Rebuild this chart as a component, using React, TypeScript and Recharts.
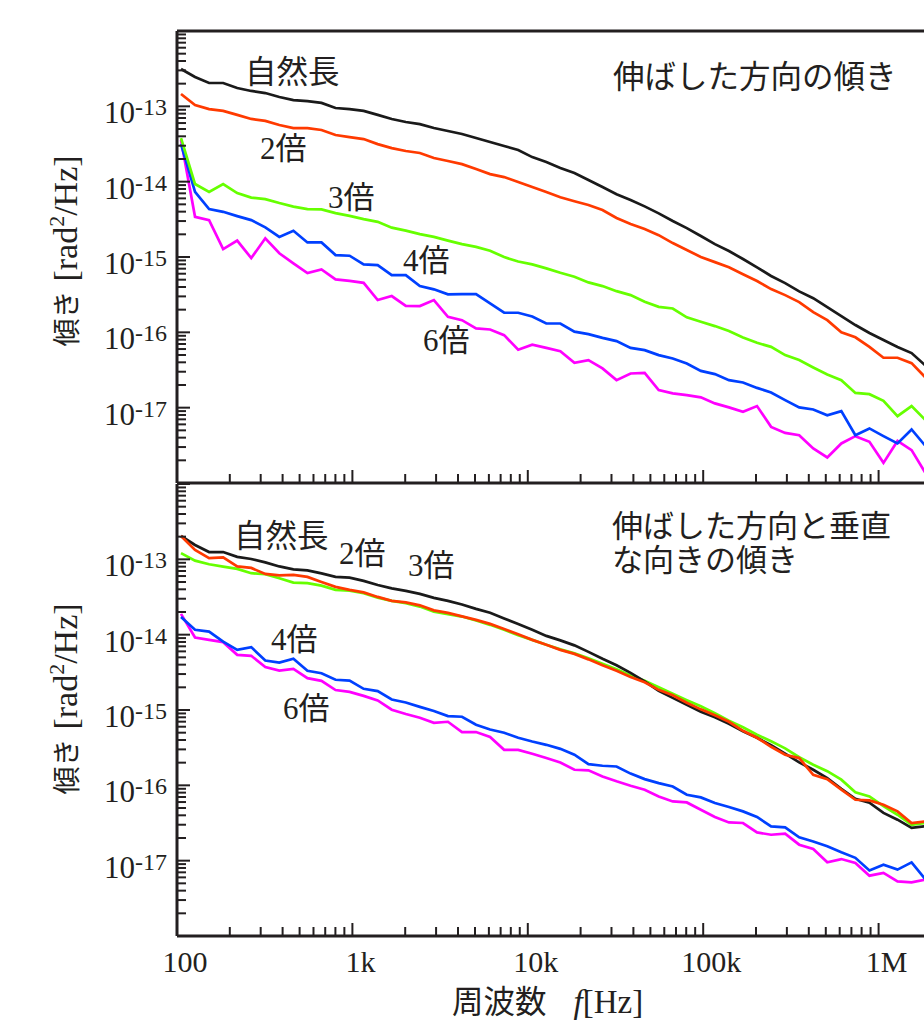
import { LineChart, Line, XAxis, YAxis, ReferenceLine } from 'recharts';

const INK = '#231f20';
const SERIF = '"Liberation Serif", "Times New Roman", serif';
const GOTHIC = '"Noto Sans CJK JP", "Noto Sans", sans-serif';

// frequency of each sample [Hz]
const FREQ = [
  105.4, 126.7, 152.4, 183.3, 220.4, 265.0, 318.7, 383.2, 460.9, 554.2,
  666.4, 801.4, 963.8, 1159, 1394, 1676, 2016, 2424, 2915, 3505,
  4215, 5069, 6095, 7330, 8814, 10600, 12750, 15330, 18440, 22170,
  26660, 32060, 38550, 46370, 55760, 67050, 80630, 96940, 116600, 140200,
  168600, 202700, 243800, 293200, 352600, 424000, 509800, 613100, 737300, 886600,
  1066000, 1282000, 1542000, 1854000,
];

// 伸ばした方向の傾き
const TOP_NATURAL = [
  3.13e-13, 2.45e-13, 2.04e-13, 2.04e-13, 1.75e-13, 1.6e-13, 1.5e-13, 1.33e-13, 1.21e-13, 1.17e-13,
  1.11e-13, 9.5e-14, 9.2e-14, 8.7e-14, 7.7e-14, 6.8e-14, 6.2e-14, 5.8e-14, 5.15e-14, 4.7e-14,
  4.3e-14, 3.8e-14, 3.36e-14, 2.97e-14, 2.63e-14, 2.12e-14, 1.82e-14, 1.52e-14, 1.3e-14, 1.05e-14,
  8.5e-15, 6.8e-15, 5.7e-15, 4.7e-15, 3.8e-15, 3.0e-15, 2.42e-15, 1.9e-15, 1.48e-15, 1.2e-15,
  9.4e-16, 7.3e-16, 5.6e-16, 4.5e-16, 3.5e-16, 2.84e-16, 2.16e-16, 1.64e-16, 1.25e-16, 9.8e-17,
  7.9e-17, 6.4e-17, 5.3e-17, 3.6e-17,
];
const TOP_X2 = [
  1.46e-13, 1.04e-13, 9.2e-14, 8.7e-14, 7.7e-14, 6.8e-14, 6.4e-14, 5.65e-14, 5.15e-14, 5.15e-14,
  4.85e-14, 4.16e-14, 3.9e-14, 3.68e-14, 3.15e-14, 2.79e-14, 2.55e-14, 2.4e-14, 2.06e-14, 1.88e-14,
  1.71e-14, 1.47e-14, 1.26e-14, 1.15e-14, 9.9e-15, 8.5e-15, 7.3e-15, 6.2e-15, 5.5e-15, 4.9e-15,
  4.2e-15, 3.3e-15, 2.74e-15, 2.35e-15, 1.95e-15, 1.53e-15, 1.24e-15, 1.0e-15, 8.55e-16, 7.3e-16,
  5.9e-16, 4.8e-16, 3.75e-16, 3.12e-16, 2.52e-16, 1.85e-16, 1.45e-16, 1.0e-16, 8.6e-17, 6.4e-17,
  4.6e-17, 4.6e-17, 3.9e-17, 2.5e-17,
];
const TOP_X3 = [
  3.79e-14, 9.3e-15, 7.3e-15, 9.3e-15, 7.06e-15, 6.15e-15, 5.87e-15, 5.2e-15, 4.67e-15, 4.32e-15,
  4.29e-15, 3.83e-15, 3.52e-15, 3.18e-15, 2.93e-15, 2.45e-15, 2.24e-15, 2.01e-15, 1.85e-15, 1.65e-15,
  1.48e-15, 1.36e-15, 1.21e-15, 9.97e-16, 8.7e-16, 7.98e-16, 7.06e-16, 6.17e-16, 5.46e-16, 4.6e-16,
  4.11e-16, 3.52e-16, 3.12e-16, 2.54e-16, 2.18e-16, 2.07e-16, 1.58e-16, 1.38e-16, 1.21e-16, 1.04e-16,
  8.55e-17, 7.26e-17, 6.42e-17, 4.98e-17, 4.28e-17, 3.42e-17, 2.76e-17, 2.32e-17, 1.57e-17, 1.51e-17,
  1.23e-17, 7.7e-18, 1.05e-17, 6.8e-18,
];
const TOP_X4 = [
  3.16e-14, 7.34e-15, 4.33e-15, 3.98e-15, 3.49e-15, 3.09e-15, 2.47e-15, 1.85e-15, 2.23e-15, 1.56e-15,
  1.56e-15, 1.06e-15, 1.04e-15, 7.98e-16, 7.8e-16, 5.75e-16, 5.75e-16, 4.11e-16, 3.72e-16, 3.19e-16,
  3.21e-16, 3.21e-16, 2.42e-16, 1.82e-16, 1.82e-16, 1.62e-16, 1.31e-16, 1.31e-16, 1.02e-16, 9.46e-17,
  8.45e-17, 7.64e-17, 6.22e-17, 5.8e-17, 4.98e-17, 4.5e-17, 3.86e-17, 3.08e-17, 2.79e-17, 2.32e-17,
  2.16e-17, 1.83e-17, 1.59e-17, 1.26e-17, 1.01e-17, 9.46e-18, 7.94e-18, 9.0e-18, 4.3e-18, 5.3e-18,
  4.19e-18, 3.35e-18, 5.13e-18, 3.08e-18,
];
const TOP_X6 = [
  3.57e-14, 3.42e-15, 3.09e-15, 1.27e-15, 1.65e-15, 9.67e-16, 1.77e-15, 1.12e-15, 8.22e-16, 6.11e-16,
  6.84e-16, 5.05e-16, 4.83e-16, 4.54e-16, 2.68e-16, 3.03e-16, 2.25e-16, 2.23e-16, 2.68e-16, 1.61e-16,
  1.45e-16, 1.13e-16, 1.09e-16, 9.18e-17, 5.89e-17, 6.87e-17, 6.22e-17, 5.62e-17, 3.94e-17, 4.28e-17,
  3.32e-17, 2.32e-17, 2.84e-17, 2.9e-17, 1.71e-17, 1.55e-17, 1.47e-17, 1.37e-17, 1.14e-17, 1.01e-17,
  8.8e-18, 1.05e-17, 5.56e-18, 4.62e-18, 4.31e-18, 2.87e-18, 2.18e-18, 3.35e-18, 4.19e-18, 3.52e-18,
  1.85e-18, 3.62e-18, 2.73e-18, 1.34e-18,
];

// 伸ばした方向と垂直な向きの傾き
const BOT_NATURAL = [
  2.04e-13, 1.55e-13, 1.25e-13, 1.25e-13, 1.08e-13, 1.01e-13, 9.1e-14, 8.05e-14, 7.35e-14, 7.13e-14,
  6.5e-14, 5.85e-14, 5.72e-14, 5.17e-14, 4.57e-14, 4.11e-14, 3.81e-14, 3.48e-14, 3.08e-14, 2.81e-14,
  2.52e-14, 2.2e-14, 1.95e-14, 1.64e-14, 1.39e-14, 1.16e-14, 9.64e-15, 8.4e-15, 7.21e-15, 5.91e-15,
  4.78e-15, 3.92e-15, 3.11e-15, 2.4e-15, 1.8e-15, 1.45e-15, 1.17e-15, 9.46e-16, 8.0e-16, 6.56e-16,
  5.22e-16, 4.28e-16, 3.4e-16, 2.63e-16, 2.02e-16, 1.61e-16, 1.25e-16, 9.0e-17, 6.64e-17, 5.88e-17,
  4.3e-17, 3.5e-17, 2.72e-17, 2.87e-17,
];
const BOT_X2 = [
  2.04e-13, 1.33e-13, 1.04e-13, 1.06e-13, 8.05e-14, 7.69e-14, 6.4e-14, 6.11e-14, 6.21e-14, 5.85e-14,
  5.01e-14, 4.31e-14, 3.93e-14, 3.64e-14, 3.17e-14, 2.81e-14, 2.68e-14, 2.45e-14, 2.1e-14, 1.95e-14,
  1.75e-14, 1.57e-14, 1.39e-14, 1.19e-14, 1.01e-14, 8.53e-15, 7.33e-15, 6.28e-15, 5.56e-15, 4.7e-15,
  3.92e-15, 3.31e-15, 2.75e-15, 2.33e-15, 1.85e-15, 1.57e-15, 1.25e-15, 1.02e-15, 8.5e-16, 6.98e-16,
  5.3e-16, 4.28e-16, 3.25e-16, 2.55e-16, 2.3e-16, 1.38e-16, 1.21e-16, 8.75e-17, 6.44e-17, 6.31e-17,
  5.53e-17, 4.51e-17, 3.16e-17, 3.32e-17,
];
const BOT_X3 = [
  1.21e-13, 9.6e-14, 8.6e-14, 8.0e-14, 7.46e-14, 6.55e-14, 6.34e-14, 5.61e-14, 4.91e-14, 4.82e-14,
  4.48e-14, 3.93e-14, 3.85e-14, 3.55e-14, 3.1e-14, 2.81e-14, 2.62e-14, 2.36e-14, 2.02e-14, 1.87e-14,
  1.74e-14, 1.54e-14, 1.35e-14, 1.16e-14, 9.8e-15, 8.53e-15, 7.33e-15, 6.38e-15, 5.65e-15, 4.85e-15,
  4.1e-15, 3.47e-15, 2.88e-15, 2.44e-15, 2.0e-15, 1.64e-15, 1.35e-15, 1.12e-15, 9.04e-16, 7.2e-16,
  5.9e-16, 4.69e-16, 3.85e-16, 3.1e-16, 2.36e-16, 1.88e-16, 1.54e-16, 1.19e-16, 8.1e-17, 7.13e-17,
  5.28e-17, 4.07e-17, 3.0e-17, 3.16e-17,
];
const BOT_X4 = [
  1.71e-14, 1.16e-14, 1.1e-14, 8.1e-15, 6.28e-15, 6.83e-15, 4.53e-15, 4.26e-15, 4.78e-15, 3.31e-15,
  3.08e-15, 2.52e-15, 2.46e-15, 1.91e-15, 1.78e-15, 1.38e-15, 1.26e-15, 1.1e-15, 9.7e-16, 8.3e-16,
  8.13e-16, 6.37e-16, 5.51e-16, 4.99e-16, 4.28e-16, 3.82e-16, 3.45e-16, 3.05e-16, 2.55e-16, 1.91e-16,
  1.82e-16, 1.78e-16, 1.43e-16, 1.21e-16, 1.07e-16, 9.66e-17, 7.5e-17, 6.92e-17, 5.82e-17, 5.15e-17,
  4.51e-17, 3.8e-17, 2.85e-17, 2.77e-17, 2.04e-17, 1.8e-17, 1.55e-17, 1.29e-17, 1.09e-17, 7.43e-18,
  8.85e-18, 7.6e-18, 9.5e-18, 5.6e-18,
];
const BOT_X6 = [
  1.89e-14, 9.16e-15, 8.53e-15, 7.96e-15, 5.4e-15, 5.24e-15, 3.71e-15, 3.34e-15, 3.52e-15, 2.65e-15,
  2.44e-15, 1.84e-15, 1.74e-15, 1.54e-15, 1.34e-15, 1.01e-15, 8.83e-16, 7.89e-16, 6.76e-16, 6.98e-16,
  5.09e-16, 5.09e-16, 4.38e-16, 2.96e-16, 2.96e-16, 2.63e-16, 2.3e-16, 2.01e-16, 1.61e-16, 1.58e-16,
  1.31e-16, 1.13e-16, 9.89e-17, 8.75e-17, 7.13e-17, 6.11e-17, 5.93e-17, 4.74e-17, 3.8e-17, 3.22e-17,
  3.16e-17, 2.37e-17, 2.21e-17, 2.28e-17, 1.63e-17, 1.43e-17, 9.5e-18, 1.05e-17, 9.33e-18, 6.32e-18,
  6.87e-18, 5.31e-18, 5.15e-18, 5.6e-18,
];

const X_DECADES = [100, 1e3, 1e4, 1e5, 1e6];
const X_LABELS = ['100', '1k', '10k', '100k', '1M'];
const Y_DECADES = [1e-18, 1e-17, 1e-16, 1e-15, 1e-14, 1e-13, 1e-12];
const Y_LABELED = [1e-17, 1e-16, 1e-15, 1e-14, 1e-13];
const Y_LABELS = ['-17', '-16', '-15', '-14', '-13'];
const MINOR = [1, 2, 3, 4, 5, 6, 7, 8, 9];

const X_MAX = 2.016e6;
const X_TICKS = X_DECADES.flatMap(d => MINOR.map(m => m * d)).filter(v => v <= 2e6);
const Y_TICKS = Y_DECADES.slice(0, -1).flatMap(d => MINOR.map(m => m * d)).concat([1e-12]);

// draw order: later ones sit on top
const SERIES = [
  { key: 'x6', color: '#ff00ff' },
  { key: 'x4', color: '#0040ff' },
  { key: 'x3', color: '#66ff00' },
  { key: 'natural', color: '#1a1a1a' },
  { key: 'x2', color: '#ff3a00' },
];

const topRows = FREQ.map((f, i) => ({
  f, natural: TOP_NATURAL[i], x2: TOP_X2[i], x3: TOP_X3[i], x4: TOP_X4[i], x6: TOP_X6[i],
}));
const bottomRows = FREQ.map((f, i) => ({
  f, natural: BOT_NATURAL[i], x2: BOT_X2[i], x3: BOT_X3[i], x4: BOT_X4[i], x6: BOT_X6[i],
}));

function XTick(props: any) {
  const { x, y, payload, showLabel } = props;
  const i = X_DECADES.indexOf(payload.value);
  return (
    <g>
      <line x1={x} x2={x} y1={y} y2={y - (i >= 0 ? 13 : 9)} stroke={INK} strokeWidth={2} />
      {i >= 0 && showLabel && (
        <text x={x + 8} y={y + 36} textAnchor="middle" fontFamily={SERIF} fontSize={30} fill={INK}>
          {X_LABELS[i]}
        </text>
      )}
    </g>
  );
}

function YTick(props: any) {
  const { x, y, payload } = props;
  const major = Y_DECADES.includes(payload.value);
  const i = Y_LABELED.indexOf(payload.value);
  return (
    <g>
      <line x1={x} x2={x + (major ? 13 : 9)} y1={y} y2={y} stroke={INK} strokeWidth={2} />
      {i >= 0 && (
        <text x={x - 10} y={y + 17} textAnchor="end" fontFamily={SERIF} fontSize={31} fill={INK}>
          10<tspan fontSize={24} dy={-8}>{Y_LABELS[i]}</tspan>
        </text>
      )}
    </g>
  );
}

function Panel({ rows, height, top, axisHeight, showLabels, frameTop }: any) {
  return (
    <LineChart width={932} height={height} data={rows} margin={{ top, right: 0, bottom: 0, left: 0 }}>
      <XAxis
        dataKey="f"
        type="number"
        scale="log"
        domain={[100, X_MAX]}
        allowDataOverflow
        ticks={X_TICKS}
        interval={0}
        height={axisHeight}
        tickSize={0}
        tickMargin={0}
        tickLine={false}
        axisLine={{ stroke: INK, strokeWidth: 3 }}
        tick={(p: any) => <XTick {...p} showLabel={showLabels} />}
      />
      <YAxis
        type="number"
        scale="log"
        domain={[1e-18, 1e-12]}
        allowDataOverflow
        ticks={Y_TICKS}
        interval={0}
        width={177}
        tickSize={0}
        tickMargin={0}
        tickLine={false}
        axisLine={{ stroke: INK, strokeWidth: 3 }}
        tick={(p: any) => <YTick {...p} />}
      />
      {frameTop && <ReferenceLine y={1e-12} stroke={INK} strokeWidth={3} />}
      {SERIES.map(s => (
        <Line
          key={s.key}
          dataKey={s.key}
          type="linear"
          stroke={s.color}
          strokeWidth={2.7}
          dot={false}
          activeDot={false}
          isAnimationActive={false}
        />
      ))}
    </LineChart>
  );
}

function YTitle({ cy }: { cy: number }) {
  return (
    <text transform={`translate(77,${cy}) rotate(-90)`} textAnchor="middle" fill={INK}>
      <tspan fontFamily={GOTHIC} fontSize={28}>傾き</tspan>
      <tspan fontFamily={SERIF} fontSize={34} dx={9}>[rad</tspan>
      <tspan fontFamily={SERIF} fontSize={22} dy={-13}>2</tspan>
      <tspan fontFamily={SERIF} fontSize={34} dy={13}>/Hz]</tspan>
    </text>
  );
}

function Times({ x, y, n }: { x: number; y: number; n: string }) {
  return (
    <text x={x} y={y} fill={INK} fontSize={31}>
      <tspan fontFamily={SERIF}>{n}</tspan>
      <tspan fontFamily={GOTHIC}>倍</tspan>
    </text>
  );
}

function Note({ x, y, size = 31.5, children }: any) {
  return (
    <text x={x} y={y} fill={INK} fontFamily={GOTHIC} fontSize={size}>
      {children}
    </text>
  );
}

export default function App() {
  return (
    <div style={{ position: 'absolute', left: 0, top: 0, width: 924, height: 1025, overflow: 'hidden', background: '#fff' }}>
      <div style={{ position: 'absolute', left: 0, top: 0 }}>
        <Panel rows={topRows} height={500} top={31} axisHeight={17} showLabels={false} frameTop />
      </div>
      <div style={{ position: 'absolute', left: 0, top: 483 }}>
        <Panel rows={bottomRows} height={542} top={1} axisHeight={89} showLabels frameTop={false} />
      </div>
      <svg width={924} height={1025} style={{ position: 'absolute', left: 0, top: 0, pointerEvents: 'none' }}>
        <YTitle cy={251} />
        <YTitle cy={699} />

        <Note x={245} y={83}>自然長</Note>
        <Times x={260} y={159} n="2" />
        <Times x={328} y={208} n="3" />
        <Times x={403} y={271} n="4" />
        <Times x={423} y={351} n="6" />
        <Note x={613} y={88}>伸ばした方向の傾き</Note>

        <Note x={234} y={547}>自然長</Note>
        <Times x={339} y={564} n="2" />
        <Times x={408} y={576} n="3" />
        <Times x={271} y={650} n="4" />
        <Times x={283} y={719} n="6" />
        <Note x={612} y={537} size={31}>
          <tspan x={612}>伸ばした方向と垂直</tspan>
          <tspan x={612} dy={34}>な向きの傾き</tspan>
        </Note>

        <text x={452} y={1013} fill={INK}>
          <tspan fontFamily={GOTHIC} fontSize={31.5}>周波数</tspan>
          <tspan fontFamily={SERIF} fontSize={33} fontStyle="italic" dx={27}>f</tspan>
          <tspan fontFamily={SERIF} fontSize={33}>[Hz]</tspan>
        </text>
      </svg>
    </div>
  );
}
